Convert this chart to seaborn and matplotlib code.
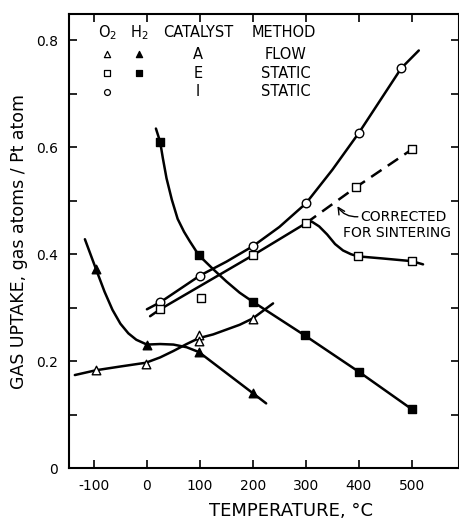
import matplotlib
matplotlib.use("Agg")
import matplotlib.pyplot as plt
import seaborn as sns

sns.set_theme(style="white")
plt.rcParams['font.family'] = ['DejaVu Sans']
plt.rcParams['text.color'] = 'black'
plt.rcParams['axes.labelcolor'] = 'black'
plt.rcParams['xtick.color'] = 'black'
plt.rcParams['ytick.color'] = 'black'

# ---- data ----
# Catalyst I, O2 (open circles)
i_o2_x = [25, 100, 200, 300, 400, 480]
i_o2_y = [0.310, 0.360, 0.415, 0.495, 0.627, 0.748]
i_o2_curve_x = [0, 25, 100, 150, 200, 250, 300, 350, 400, 480, 513]
i_o2_curve_y = [0.297, 0.310, 0.360, 0.386, 0.415, 0.451, 0.495, 0.558, 0.627, 0.748, 0.781]

# Catalyst E, O2 (open squares)
e_o2_x = [25, 102, 200, 300, 398, 500, 394, 500]
e_o2_y = [0.297, 0.318, 0.398, 0.458, 0.396, 0.387, 0.525, 0.596]
e_o2_curve_x = [6, 25, 200, 300, 311, 325, 340, 355, 370, 385, 398, 445, 500, 521]
e_o2_curve_y = [0.284, 0.297, 0.398, 0.458, 0.461, 0.452, 0.437, 0.419, 0.407, 0.400,
                0.396, 0.392, 0.387, 0.381]
e_o2_corr_x = [300, 394, 500]
e_o2_corr_y = [0.458, 0.525, 0.596]

# Catalyst E, H2 (filled squares)
e_h2_x = [25, 98, 200, 298, 400, 500]
e_h2_y = [0.610, 0.398, 0.311, 0.248, 0.180, 0.110]
e_h2_curve_x = [17, 25, 30, 37, 47, 58, 70, 81, 98, 125, 150, 175, 200, 298, 400, 500]
e_h2_curve_y = [0.635, 0.610, 0.580, 0.542, 0.502, 0.466, 0.442, 0.424, 0.398, 0.372,
                0.349, 0.328, 0.311, 0.248, 0.180, 0.110]

# Catalyst A, H2 (filled triangles)
a_h2_x = [-96, 0, 98, 200]
a_h2_y = [0.372, 0.230, 0.217, 0.140]
a_h2_curve_x = [-117, -96, -80, -65, -50, -35, -20, 0, 25, 50, 75, 98, 200, 225]
a_h2_curve_y = [0.428, 0.372, 0.330, 0.296, 0.270, 0.252, 0.240, 0.231, 0.232, 0.231,
                0.226, 0.217, 0.140, 0.121]

# Catalyst A, O2 (open triangles)
a_o2_x = [-96, -2, 98, 98, 200]
a_o2_y = [0.183, 0.194, 0.248, 0.238, 0.278]
a_o2_curve_x = [-136, -96, -50, -2, 25, 50, 75, 98, 125, 150, 175, 200, 238]
a_o2_curve_y = [0.174, 0.183, 0.190, 0.197, 0.207, 0.219, 0.232, 0.243, 0.250, 0.259,
                0.268, 0.280, 0.308]

x_ticks = [-100, 0, 100, 200, 300, 400, 500]
y_ticks = [0, 0.1, 0.2, 0.3, 0.4, 0.5, 0.6, 0.7, 0.8]
y_tick_labels = ["0", "", "0.2", "", "0.4", "", "0.6", "", "0.8"]

fig = plt.figure(figsize=(4.6, 5.23), dpi=100)
ax = fig.add_axes([0.150, 0.105, 0.848, 0.868])

lw = 1.8
def curve(xs, ys):
    sns.lineplot(x=xs, y=ys, ax=ax, sort=False, color='black', linewidth=lw,
                 estimator=None)

curve(i_o2_curve_x, i_o2_curve_y)
curve(e_o2_curve_x, e_o2_curve_y)
curve(e_h2_curve_x, e_h2_curve_y)
curve(a_h2_curve_x, a_h2_curve_y)
curve(a_o2_curve_x, a_o2_curve_y)
ax.plot(e_o2_corr_x, e_o2_corr_y, color='black', linewidth=lw, dashes=(5, 3))

def pts(xs, ys, marker, filled, s=38):
    sns.scatterplot(x=xs, y=ys, ax=ax, marker=marker, s=s,
                    facecolor='black' if filled else 'white',
                    edgecolor='black', linewidth=1.0, zorder=5)

pts(i_o2_x, i_o2_y, 'o', False)
pts(e_o2_x, e_o2_y, 's', False, 34)
pts(e_h2_x, e_h2_y, 's', True, 34)
pts(a_h2_x, a_h2_y, '^', True)
pts(a_o2_x, a_o2_y, '^', False)

ax.set_xlim(-147, 589)
ax.set_ylim(0, 0.849)
ax.set_xticks(x_ticks)
ax.set_xticklabels([str(t) for t in x_ticks], fontsize=10)
ax.set_yticks(y_ticks)
ax.set_yticklabels(y_tick_labels, fontsize=10)
ax.tick_params(direction='in', length=6, width=1.2, top=True, right=True,
               bottom=True, left=True, color='black', pad=8)
for sp in ax.spines.values():
    sp.set_color('black')
    sp.set_linewidth(1.5)

ax.set_xlabel("TEMPERATURE, °C", fontsize=13, labelpad=5)
ax.xaxis.set_label_coords(0.57, -0.075)
ax.set_ylabel("GAS UPTAKE, gas atoms / Pt atom", fontsize=12.5, labelpad=6)

# legend table
fs = 10.5
ax.text(-75, 0.815, "O$_2$", fontsize=fs, ha='center', va='center')
ax.text(-15, 0.815, "H$_2$", fontsize=fs, ha='center', va='center')
ax.text(96, 0.815, "CATALYST", fontsize=fs, ha='center', va='center')
ax.text(258, 0.815, "METHOD", fontsize=fs, ha='center', va='center')
rows_y = [0.774, 0.738, 0.704]
ax.scatter([-75], [rows_y[0]], marker='^', s=20, facecolor='white', edgecolor='black', linewidth=0.9)
ax.scatter([-15], [rows_y[0]], marker='^', s=20, facecolor='black', edgecolor='black', linewidth=0.9)
ax.scatter([-75], [rows_y[1]], marker='s', s=18, facecolor='white', edgecolor='black', linewidth=0.9)
ax.scatter([-15], [rows_y[1]], marker='s', s=18, facecolor='black', edgecolor='black', linewidth=0.9)
ax.scatter([-75], [rows_y[2]], marker='o', s=18, facecolor='white', edgecolor='black', linewidth=0.9)
for y, c, m in zip(rows_y, ["A", "E", "I"], ["FLOW", "STATIC", "STATIC"]):
    ax.text(96, y, c, fontsize=fs, ha='center', va='center')
    ax.text(262, y, m, fontsize=fs, ha='center', va='center')

# annotation
ax.text(402, 0.469, "CORRECTED", fontsize=10, ha='left', va='center')
ax.text(370, 0.439, "FOR SINTERING", fontsize=10, ha='left', va='center')
ax.annotate("", xy=(358, 0.492), xytext=(398, 0.470),
            arrowprops=dict(arrowstyle='->', color='black', lw=1.0,
                            connectionstyle='arc3,rad=-0.3',
                            shrinkA=0, shrinkB=1))

fig.savefig("out.png", dpi=100)
